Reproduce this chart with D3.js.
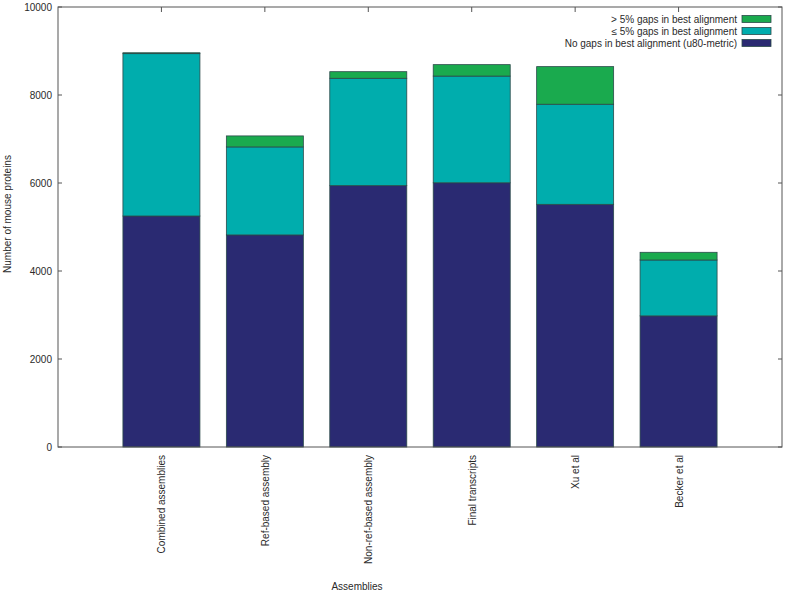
<!DOCTYPE html>
<html><head><meta charset="utf-8">
<script src="https://cdn.jsdelivr.net/npm/d3@7"></script>
<style>body{margin:0;background:#fff}svg{display:block}text{font-family:"Liberation Sans",Arial,sans-serif;fill:#2a2a2a}</style>
</head><body><svg id="c" width="786" height="594"></svg>
<script>
const categories = ["Combined assemblies","Ref-based assembly","Non-ref-based assembly","Final transcripts","Xu et al","Becker et al"];
const noGaps  = [5250, 4820, 5940, 6005, 5515, 2980];
const le5     = [3690, 2000, 2440, 2425, 2275, 1270];
const gt5     = [20,   250,  150,  260,  855,  175];
const seriesNames = ["No gaps in best alignment (u80-metric)","\u2264 5% gaps in best alignment","> 5% gaps in best alignment"];
const colors = ["#2a2a72","#00adad","#1aaa4e"];
const yTicks = [0,2000,4000,6000,8000,10000];

const svg = d3.select("#c");
const L=58,R=782,T=7,B=447;
const x = d3.scaleLinear().domain([0,7]).range([L,R]);
const y = d3.scaleLinear().domain([0,10000]).range([B,T]);
const bw = 77;
const fs = 10;

const rows = categories.map((c,i)=>({c,i,v:[noGaps[i],le5[i],gt5[i]]}));
rows.forEach(r=>{
  let acc=0;
  r.v.forEach((v,s)=>{
    svg.append("rect").attr("x",x(r.i+1)-bw/2).attr("width",bw)
      .attr("y",y(acc+v)).attr("height",y(acc)-y(acc+v))
      .attr("fill",colors[s]).attr("stroke","#2b4a4a").attr("stroke-width",0.8);
    acc+=v;
  });
});

// frame
svg.append("rect").attr("x",L).attr("y",T).attr("width",R-L).attr("height",B-T)
  .attr("fill","none").attr("stroke","#555").attr("stroke-width",1);

// y ticks
const ya = svg.append("g");
yTicks.forEach(t=>{
  ya.append("line").attr("x1",L).attr("x2",L+4).attr("y1",y(t)).attr("y2",y(t)).attr("stroke","#555");
  ya.append("line").attr("x1",R).attr("x2",R-4).attr("y1",y(t)).attr("y2",y(t)).attr("stroke","#555");
  ya.append("text").attr("x",L-6).attr("y",y(t)).attr("dy","0.35em").attr("text-anchor","end")
    .attr("font-size",fs).text(t);
});
// x ticks and labels
categories.forEach((c,i)=>{
  svg.append("line").attr("x1",x(i+1)).attr("x2",x(i+1)).attr("y1",T).attr("y2",T+5).attr("stroke","#555");
  svg.append("text").attr("transform",`translate(${x(i+1)+4},455) rotate(-90)`)
    .attr("text-anchor","end").attr("font-size",fs).text(c);
});
svg.append("text").attr("x",357).attr("y",590).attr("text-anchor","middle").attr("font-size",fs).text("Assemblies");
svg.append("text").attr("transform","translate(11,214) rotate(-90)").attr("text-anchor","middle").attr("font-size",fs).text("Number of mouse proteins");

// legend
[2,1,0].forEach((s,k)=>{
  const yy = 19 + k*12;
  svg.append("text").attr("x",737).attr("y",yy).attr("dy","0.35em").attr("text-anchor","end").attr("font-size",fs).text(seriesNames[s]);
  svg.append("rect").attr("x",742).attr("y",yy-3.5).attr("width",29).attr("height",7)
    .attr("fill",colors[s]).attr("stroke","#2b4a4a").attr("stroke-width",0.8);
});
</script></body></html>
